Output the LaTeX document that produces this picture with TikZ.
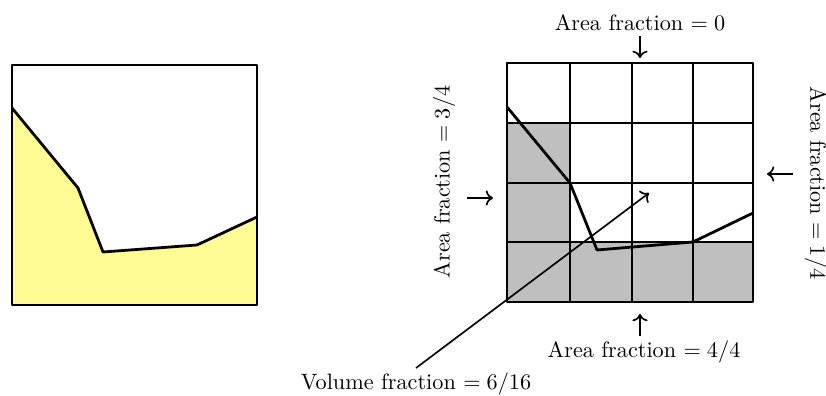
\documentclass[tikz,border=0pt]{standalone}
\usetikzlibrary{arrows.meta, positioning}
\definecolor{paleyellow}{RGB}{255,252,150}

\begin{document}
\begin{tikzpicture}[
				x=0.45pt, y=-0.45pt,
				thickline/.style={line width=1.25pt, line join=round},
				fraclabel/.style={inner sep=2pt},
				shaded/.style={fill=black!25},
				arrow/.style={->, line width=0.75pt}
				]
				
				\useasboundingbox (0,0) rectangle (826,396);
				
				% Left box
				\fill[paleyellow] (12,108) -- (78,188) -- (103,252) -- (197,245) -- (257,217) -- (257,305) -- (12,305) -- cycle;
				\draw[thickline] (12,108) -- (78,188) -- (103,252) -- (197,245) -- (257,217);
				\draw[thickline] (12,65) rectangle (257,305);
				
				% Shaded cells
				\fill[shaded] (507,123) rectangle (570,302);
				\fill[shaded] (507,242) rectangle (753,302);
				
				% Grid
				\foreach \gx in {570,632,693} \draw[thickline] (\gx,63) -- (\gx,302);
				\foreach \gy in {123,183,242} \draw[thickline] (507,\gy) -- (753,\gy);
				\draw[thickline] (507,63) rectangle (753,302);
				\draw[thickline] (507,107) -- (570,183) -- (597,250) -- (693,242) -- (753,213);
				
				% Labels
				\node[fraclabel] (topfrac) at (640,23) {Area fraction $= 0$};
				\node[fraclabel] (botfrac) at (644,352) {Area fraction $= 4/4$};
				\node[fraclabel, rotate=90] (leftfrac) at (444,182) {Area fraction $= 3/4$};
				\node[fraclabel, rotate=-90] (rightfrac) at (816,183) {Area fraction $= 1/4$};
				\node[fraclabel] (volfrac) at (416,384) {Volume fraction $= 6/16$};
				
				% Arrow ends
				\coordinate (toptip) at (640,58);
				\coordinate (bottip) at (640,314);
				\coordinate (lefttail) at (467,198);
				\coordinate (lefttip) at (493,198);
				\coordinate (righttail) at (793,174);
				\coordinate (righttip) at (767,174);
				\coordinate (voltip) at (649,193);
				
				% Arrows
				\draw[arrow] (topfrac.south) -- (toptip);
				\draw[arrow] (botfrac.north -| bottip) -- (bottip);
				\draw[arrow] (lefttail) -- (lefttip);
				\draw[arrow] (righttail) -- (righttip);
				\draw[arrow] (volfrac.north) -- (voltip);
				
			\end{tikzpicture}
\end{document}
